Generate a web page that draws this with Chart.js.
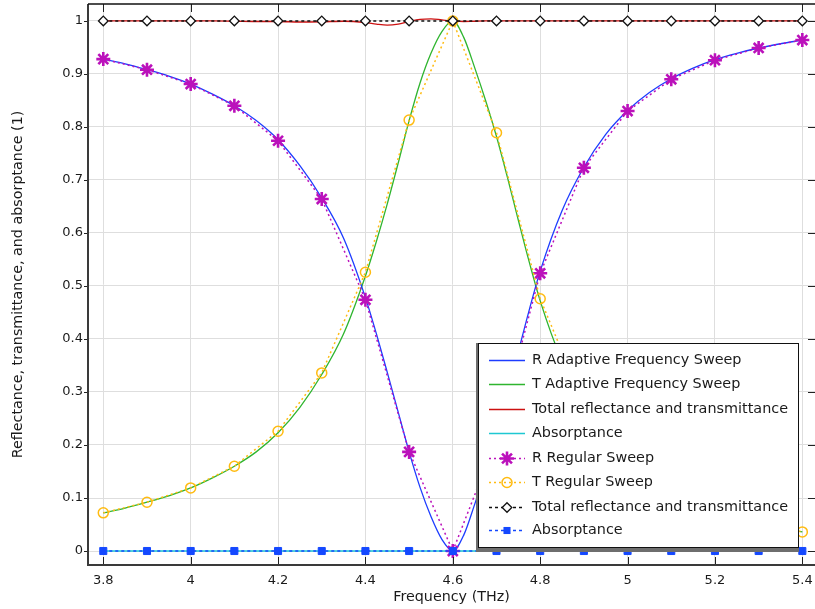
<!DOCTYPE html>
<html>
<head>
<meta charset="utf-8">
<title>Reflectance, transmittance and absorptance</title>
<script src="https://cdn.jsdelivr.net/npm/chart.js@4.4.1/dist/chart.umd.min.js"></script>
<style>
    html, body { margin: 0; padding: 0; background: #ffffff; }
    #wrap { width: 815px; height: 609px; }
</style>
</head>
<body>
<div id="wrap"><canvas id="chart" width="815" height="609"></canvas></div>
<script>
// regular sweep (0.1 THz steps)
const regularFreq = [3.8, 3.9, 4.0, 4.1, 4.2, 4.3, 4.4, 4.5, 4.6, 4.7, 4.8, 4.9, 5.0, 5.1, 5.2, 5.3, 5.4];
const rRegular = [0.928, 0.908, 0.881, 0.840, 0.774, 0.664, 0.474, 0.187, 0.0, 0.211, 0.524, 0.723, 0.830, 0.890, 0.926, 0.949, 0.964];
const tRegular = [0.072, 0.092, 0.119, 0.160, 0.226, 0.336, 0.526, 0.813, 1.0, 0.789, 0.476, 0.277, 0.170, 0.110, 0.074, 0.051, 0.036];
const totalRegular = [1, 1, 1, 1, 1, 1, 1, 1, 1, 1, 1, 1, 1, 1, 1, 1, 1];
const absRegular = [0, 0, 0, 0, 0, 0, 0, 0, 0, 0, 0, 0, 0, 0, 0, 0, 0];

// adaptive frequency sweep (denser near the resonance)
const adaptiveFreq = [3.8, 3.85, 3.9, 3.95, 4.0, 4.05, 4.1, 4.15, 4.2, 4.25, 4.3, 4.35, 4.4, 4.425, 4.45, 4.475, 4.5, 4.525, 4.55, 4.575, 4.6,
    4.625, 4.65, 4.675, 4.7, 4.725, 4.75, 4.775, 4.8, 4.85, 4.9, 4.95, 5.0, 5.05, 5.1, 5.15, 5.2, 5.25, 5.3, 5.35, 5.4];
const rAdaptive = [0.928, 0.919, 0.908, 0.896, 0.881, 0.862, 0.840, 0.812, 0.776, 0.727, 0.666, 0.590, 0.478, 0.410, 0.337, 0.262, 0.187, 0.120, 0.065, 0.022, 0.0,
    0.030, 0.088, 0.150, 0.218, 0.295, 0.376, 0.455, 0.528, 0.642, 0.724, 0.786, 0.831, 0.865, 0.891, 0.911, 0.927, 0.939, 0.949, 0.957, 0.964];
const tAdaptive = [0.072, 0.081, 0.092, 0.104, 0.119, 0.138, 0.160, 0.187, 0.223, 0.271, 0.333, 0.410, 0.519, 0.584, 0.655, 0.732, 0.812, 0.883, 0.939, 0.980, 1.0,
    0.969, 0.912, 0.850, 0.782, 0.705, 0.624, 0.545, 0.472, 0.358, 0.276, 0.214, 0.169, 0.135, 0.109, 0.089, 0.073, 0.061, 0.051, 0.043, 0.036];
const totalAdaptive = [1, 1, 1, 1, 1, 1, 0.9995, 0.999, 0.999, 0.998, 0.9985, 0.9995, 0.997, 0.994, 0.992, 0.994, 0.999, 1.003, 1.004, 1.002, 1.0,
    0.999, 0.9995, 1, 1, 1, 1, 1, 1, 1, 1, 1, 1, 1, 1, 1, 1, 1, 1, 1, 1];
const absAdaptive = [0, 0, 0, 0, 0, 0, 0, 0, 0, 0, 0, 0, 0, 0, 0, 0, 0, 0, 0, 0, 0,
    0, 0, 0, 0, 0, 0, 0, 0, 0, 0, 0, 0, 0, 0, 0, 0, 0, 0, 0, 0];

const seriesNames = [
    'R Adaptive Frequency Sweep',
    'T Adaptive Frequency Sweep',
    'Total reflectance and transmittance',
    'Absorptance',
    'R Regular Sweep',
    'T Regular Sweep',
    'Total reflectance and transmittance',
    'Absorptance'
];

const xTickValues = [3.8, 4.0, 4.2, 4.4, 4.6, 4.8, 5.0, 5.2, 5.4];
const xTickLabels = ['3.8', '4', '4.2', '4.4', '4.6', '4.8', '5', '5.2', '5.4'];
const yTickValues = [0, 0.1, 0.2, 0.3, 0.4, 0.5, 0.6, 0.7, 0.8, 0.9, 1];
const yTickLabels = ['0', '0.1', '0.2', '0.3', '0.4', '0.5', '0.6', '0.7', '0.8', '0.9', '1'];

const FONT = "'DejaVu Sans', 'Liberation Sans', sans-serif";

function toPoints(xs, ys) {
    return xs.map((x, i) => ({ x: x, y: ys[i] }));
}

function adaptiveSet(label, ys, color, order) {
    return {
        label: label,
        data: toPoints(adaptiveFreq, ys),
        borderColor: color,
        borderWidth: 1.3,
        pointRadius: 0,
        cubicInterpolationMode: 'monotone',
        fill: false,
        order: order
    };
}

function regularSet(label, ys, color, dash, style, radius, fillColor, pointWidth, order) {
    return {
        label: label,
        data: toPoints(regularFreq, ys),
        borderColor: color,
        borderWidth: 1.5,
        borderDash: dash,
        tension: 0,
        pointStyle: style,
        pointRadius: radius,
        pointBorderColor: color,
        pointBackgroundColor: fillColor,
        pointBorderWidth: pointWidth,
        fill: false,
        order: order
    };
}

const datasets = [
    adaptiveSet(seriesNames[0], rAdaptive, '#1d3cff', 12),
    adaptiveSet(seriesNames[1], tAdaptive, '#2fb52f', 13),
    adaptiveSet(seriesNames[2], totalAdaptive, '#cc1111', 11),
    adaptiveSet(seriesNames[3], absAdaptive, '#1ec8d2', 14),
    regularSet(seriesNames[4], rRegular, '#bb11bb', [2, 3], 'star', 7, '#bb11bb', 2.6, 3),
    regularSet(seriesNames[5], tRegular, '#ffbb11', [2, 3], 'circle', 5, 'rgba(0,0,0,0)', 1.5, 2),
    regularSet(seriesNames[6], totalRegular, '#111111', [3, 3], 'rectRot', 4.8, '#ffffff', 1.3, 1),
    regularSet(seriesNames[7], absRegular, '#1448ff', [3, 3], 'rect', 5, '#1448ff', 1, 0)
];

// frame, tick labels and inward ticks, like the original plot
const framePlugin = {
    id: 'frame',
    afterDraw(chart) {
        const { ctx, chartArea: a, scales } = chart;
        ctx.save();
        ctx.font = '13px ' + FONT;
        ctx.fillStyle = '#1a1a1a';
        ctx.textAlign = 'center';
        ctx.textBaseline = 'top';
        xTickValues.forEach((v, i) => {
            ctx.fillText(xTickLabels[i], scales.x.getPixelForValue(v), a.bottom + 9);
        });
        ctx.textAlign = 'right';
        ctx.textBaseline = 'middle';
        yTickValues.forEach((v, i) => {
            ctx.fillText(yTickLabels[i], a.left - 5, scales.y.getPixelForValue(v));
        });

        ctx.strokeStyle = '#222';
        ctx.lineWidth = 1;
        xTickValues.forEach(v => {
            const px = Math.round(scales.x.getPixelForValue(v)) + 0.5;
            ctx.beginPath();
            ctx.moveTo(px, a.top); ctx.lineTo(px, a.top + 8);
            ctx.moveTo(px, a.bottom); ctx.lineTo(px, a.bottom - 8);
            ctx.stroke();
        });
        yTickValues.forEach(v => {
            const py = Math.round(scales.y.getPixelForValue(v)) + 0.5;
            ctx.beginPath();
            ctx.moveTo(a.left, py); ctx.lineTo(a.left - 4, py);
            ctx.moveTo(a.right, py); ctx.lineTo(a.right - 7, py);
            ctx.stroke();
        });
        ctx.lineWidth = 2;
        ctx.strokeStyle = '#3a3a3a';
        ctx.beginPath();
        ctx.moveTo(a.left, a.top);
        ctx.lineTo(a.left, a.bottom);
        ctx.lineTo(a.right, a.bottom);
        ctx.stroke();
        ctx.strokeStyle = '#111';
        ctx.lineWidth = 1.5;
        ctx.beginPath();
        ctx.moveTo(a.left, a.top);
        ctx.lineTo(a.right, a.top);
        ctx.stroke();
        ctx.restore();
    }
};

function drawMarker(ctx, ds, x, y) {
    const r = ds.pointRadius;
    ctx.save();
    ctx.setLineDash([]);
    ctx.lineWidth = ds.pointBorderWidth;
    ctx.strokeStyle = ds.pointBorderColor;
    ctx.fillStyle = ds.pointBackgroundColor;
    ctx.beginPath();
    if (ds.pointStyle === 'star') {
        ctx.moveTo(x, y - r); ctx.lineTo(x, y + r);
        ctx.moveTo(x - r, y); ctx.lineTo(x + r, y);
        const d = r * Math.SQRT1_2;
        ctx.moveTo(x - d, y - d); ctx.lineTo(x + d, y + d);
        ctx.moveTo(x - d, y + d); ctx.lineTo(x + d, y - d);
        ctx.stroke();
    } else if (ds.pointStyle === 'circle') {
        ctx.arc(x, y, r, 0, Math.PI * 2);
        ctx.stroke();
    } else if (ds.pointStyle === 'rectRot') {
        ctx.moveTo(x, y - r); ctx.lineTo(x + r, y); ctx.lineTo(x, y + r); ctx.lineTo(x - r, y);
        ctx.closePath();
        ctx.fill();
        ctx.stroke();
    } else {
        const s = r * Math.SQRT1_2;
        ctx.rect(x - s, y - s, 2 * s, 2 * s);
        ctx.fill();
    }
    ctx.restore();
}

// legend box sitting inside the plot, lower right
const boxLegendPlugin = {
    id: 'boxLegend',
    afterDraw(chart) {
        const ctx = chart.ctx;
        const left = 478, top = 343, width = 321, height = 205;
        ctx.save();
        ctx.fillStyle = '#ffffff';
        ctx.fillRect(left, top, width, height);
        ctx.fillStyle = '#6e6e6e';
        ctx.fillRect(left - 2, top, 3, height + 4);
        ctx.fillRect(left - 2, top + height, width + 2, 4);
        ctx.strokeStyle = '#111';
        ctx.lineWidth = 1;
        ctx.strokeRect(left + 0.5, top + 0.5, width - 1, height - 1);

        ctx.font = '14.4px ' + FONT;
        ctx.textBaseline = 'middle';
        ctx.fillStyle = '#1a1a1a';
        const rowY = [360, 384, 409, 433, 458, 482, 507, 530];
        chart.data.datasets.forEach((ds, i) => {
            const y = rowY[i];
            ctx.save();
            ctx.strokeStyle = ds.borderColor;
            ctx.lineWidth = ds.pointRadius ? 1.5 : 1.3;
            ctx.setLineDash(ds.borderDash || []);
            ctx.beginPath();
            ctx.moveTo(489, y + 0.5);
            ctx.lineTo(525, y + 0.5);
            ctx.stroke();
            ctx.restore();
            if (ds.pointRadius) {
                drawMarker(ctx, ds, 507, y + 0.5);
            }
            ctx.fillText(ds.label, 532, y);
        });
        ctx.restore();
    }
};

const chart = new Chart(document.getElementById('chart'), {
    type: 'line',
    data: { datasets: datasets },
    options: {
        responsive: false,
        animation: false,
        devicePixelRatio: 1,
        layout: { autoPadding: false, padding: { top: 4, right: 0, left: 0, bottom: 0 } },
        plugins: {
            legend: { display: false },
            tooltip: { enabled: false }
        },
        scales: {
            x: {
                type: 'linear',
                min: 3.765,
                max: 5.429,
                afterBuildTicks: (scale) => { scale.ticks = xTickValues.map(v => ({ value: v })); },
                afterFit: (scale) => { scale.height = 44; },
                grid: { color: '#dedede', lineWidth: 1, drawTicks: false },
                border: { display: false },
                ticks: { display: false },
                title: {
                    display: true,
                    text: 'Frequency (THz)',
                    color: '#1a1a1a',
                    font: { family: FONT, size: 14.3 },
                    padding: { top: 0, bottom: 3 }
                }
            },
            y: {
                type: 'linear',
                min: -0.0264,
                max: 1.032,
                afterBuildTicks: (scale) => { scale.ticks = yTickValues.map(v => ({ value: v })); },
                afterFit: (scale) => { scale.width = 88; },
                grid: { color: '#dedede', lineWidth: 1, drawTicks: false },
                border: { display: false },
                ticks: { display: false },
                title: {
                    display: true,
                    text: 'Reflectance, transmittance, and absorptance (1)',
                    color: '#1a1a1a',
                    font: { family: FONT, size: 14.3 },
                    padding: { top: 10, bottom: 0 }
                }
            }
        }
    },
    plugins: [framePlugin, boxLegendPlugin]
});
</script>
</body>
</html>
